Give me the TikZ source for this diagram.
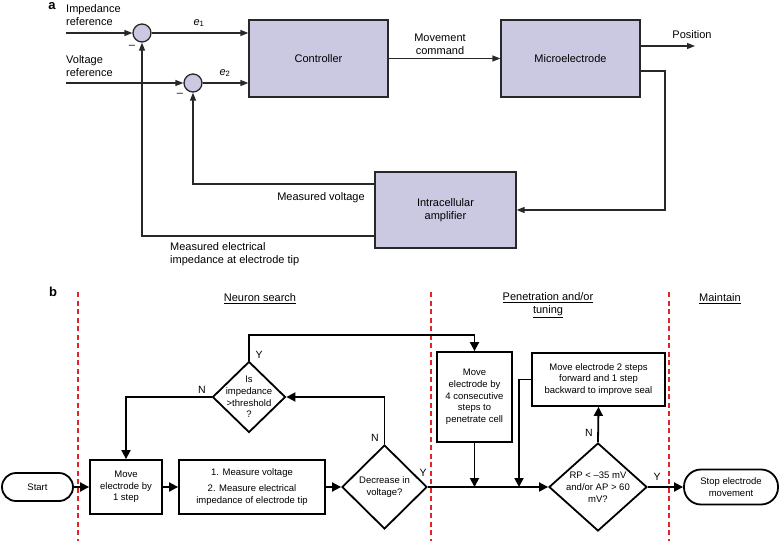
\documentclass[tikz,border=0pt]{standalone}
\usepackage{fontspec}
\setmainfont{Liberation Sans}
\usetikzlibrary{arrows.meta,shapes.geometric,calc}
\definecolor{boxfill}{RGB}{203,200,226}
\definecolor{linea}{RGB}{40,40,40}
\definecolor{dashred}{RGB}{226,35,40}
\tikzset{
  blocka/.style={draw=linea,line width=1.3pt,fill=boxfill,minimum width=#1,inner sep=0pt,align=center,font=\fontsize{11}{13}\selectfont},
  suma/.style={circle,draw=linea,line width=1.3pt,fill=boxfill,minimum size=18pt,inner sep=0pt},
  arra/.style={draw=linea,line width=1.3pt,-{Triangle[length=8pt,width=6pt]}},
  txta/.style={font=\fontsize{11}{13}\selectfont,align=center,inner sep=0pt},
  boxb/.style={draw,line width=1.8pt,inner sep=0pt,align=center,font=\fontsize{9.5}{11.7}\selectfont},
  diab/.style={diamond,draw,line width=1.8pt,inner sep=0pt,aspect=1},
  txtb/.style={font=\fontsize{9.5}{11.7}\selectfont,align=center,inner sep=0pt},
  arrb/.style={draw,line width=1.8pt,-{Triangle[length=9pt,width=9pt]}},
  lbl/.style={font=\fontsize{10.5}{12}\selectfont,inner sep=0pt},
  hdr/.style={font=\fontsize{11}{13}\selectfont,align=center,inner sep=0pt},
  sep/.style={draw=dashred,line width=1.4pt,dash pattern=on 5pt off 3.5pt},
}
\begin{document}
\begin{tikzpicture}[x=1pt,y=-1pt]
\useasboundingbox[fill=white] (0,0) rectangle (780,546);
% ---------------- part a
\node[font=\bfseries\fontsize{13}{14}\selectfont,inner sep=0pt] (la) at (52,6) {a};
\node[blocka=139pt,minimum height=77pt] (ctrl) at (318.5,58.5) {Controller};
\node[blocka=139pt,minimum height=77pt] (micro) at (570.5,58.5) {Microelectrode};
\node[blocka=141pt,minimum height=76pt] (amp) at (445.5,210) {Intracellular\\amplifier};
\node[suma] (c1) at (142,33) {};
\node[suma] (c2) at (193,83) {};
\coordinate (impin) at (66,33);
\coordinate (volin) at (66,83);
\coordinate (posend) at (695,46);
\node[txta,anchor=west,align=left] (timp) at (66,15.5) {Impedance\\reference};
\node[txta,anchor=west,align=left] (tvol) at (66,66.5) {Voltage\\reference};
\draw[arra] (impin) -- (c1);
\draw[arra] (volin) -- (c2);
\draw[arra] (c1) -- (ctrl.west |- c1);
\draw[arra] (c2) -- (ctrl.west |- c2);
\node[txta] (e1) at (199,23) {{\itshape e}\textsubscript{1}};
\node[txta] (e2) at (225,73) {{\itshape e}\textsubscript{2}};
\node[txta] (m1) at (132,47) {–};
\node[txta] (m2) at (180,95) {–};
\draw[arra] (ctrl) -- (micro);
\node[txta] (tmove) at (440,44) {Movement\\command};
\draw[arra] (micro.east |- posend) -- (posend);
\node[txta] (tpos) at (692,35) {Position};
\draw[arra] (micro.east |- 0,71) -| (665,140) |- (amp.east);
\draw[arra] (amp.west |- 0,184) -| (c2.south);
\draw[arra] (amp.west |- 0,236) -| (c1.south);
\node[txta] (tmv) at (321,198) {Measured voltage};
\node[txta,anchor=west,align=left] (tmi) at (170,254) {Measured electrical\\impedance at electrode tip};
% ---------------- part b
\node[font=\bfseries\fontsize{13}{14}\selectfont,inner sep=0pt] (lb) at (53,292) {b};
\coordinate (s1t) at (78,292); \coordinate (s1b) at (78,541);
\coordinate (s2t) at (431,292); \coordinate (s2b) at (431,541);
\coordinate (s3t) at (669,292); \coordinate (s3b) at (669,541);
\draw[sep] (s1t) -- (s1b);
\draw[sep] (s2t) -- (s2b);
\draw[sep] (s3t) -- (s3b);
\node[hdr] (h1) at (260,299) {\underline{Neuron search}};
\node[hdr] (h2) at (548,305.5) {\underline{Penetration and/or}\\\underline{tuning}};
\node[hdr] (h3) at (720,299) {\underline{Maintain}};
\node[boxb,minimum width=71pt,minimum height=28pt,rounded corners=14pt] (start) at (37.5,487) {Start};
\node[boxb,minimum width=72pt,minimum height=54pt] (move1) at (126,487) {Move\\electrode by\\1 step};
\node[boxb,minimum width=146pt,minimum height=54pt] (meas) at (252,487) {1. Measure voltage\\[4pt]2. Measure electrical\\impedance of electrode tip};
\node[diab,minimum width=85pt,minimum height=84pt] (dec) at (384.5,487) {};
\node[txtb] (tdec) at (dec) {Decrease in\\voltage?};
\node[diab,minimum width=73pt,minimum height=71pt] (imp) at (249,397) {};
\node[txtb] (timpd) at (imp) {Is\\impedance\\>threshold\\?};
\node[boxb,minimum width=75pt,minimum height=90pt] (move4) at (474.5,397) {Move\\electrode by\\4 consecutive\\steps to\\penetrate cell};
\node[boxb,minimum width=133pt,minimum height=53pt] (move2) at (598.5,379.5) {Move electrode 2 steps\\forward and 1 step\\backward to improve seal};
\node[diab,minimum width=98pt,minimum height=88pt] (rp) at (598,487) {};
\node[txtb] (trp) at (rp) {RP < –35 mV\\and/or AP > 60\\mV?};
\node[boxb,minimum width=94pt,minimum height=35pt,rounded corners=17pt] (stop) at (731,487) {Stop electrode\\movement};
\coordinate (ytop) at (249,335);
\coordinate (j2) at (519,487);
\draw[arrb] (start) -- (move1);
\draw[arrb] (move1) -- (meas);
\draw[arrb] (meas) -- (dec);
\draw[arrb] (dec.north) |- (imp.east);
\draw[arrb] (imp.west) -| (move1.north);
\draw[arrb] (imp.north) -- (ytop) -| (move4.north);
\draw[arrb] (dec.east) -- (rp.west);
\draw[arrb] (move4.south) -- (move4.south |- dec.east);
\draw[arrb] (move2.west) -| (j2);
\draw[arrb] (rp.north) -- (move2.south);
\draw[arrb] (rp.east) -- (stop.west);
\node[lbl] (y1) at (259,355) {Y};
\node[lbl] (n1) at (202,390) {N};
\node[lbl] (n2) at (375,438) {N};
\node[lbl] (y2) at (423,473) {Y};
\node[lbl] (n3) at (589,433) {N};
\node[lbl] (y3) at (657,477) {Y};
\end{tikzpicture}
\end{document}
